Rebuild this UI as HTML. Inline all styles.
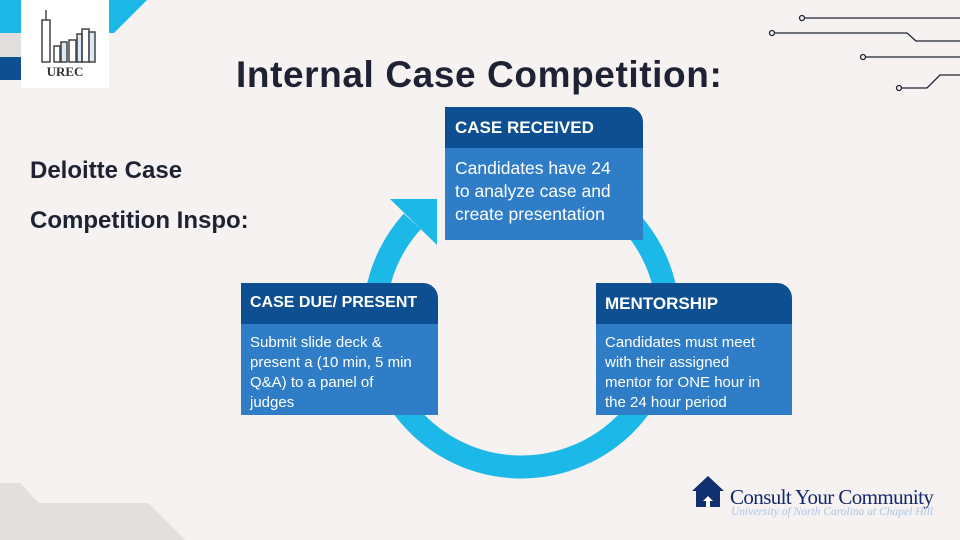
<!DOCTYPE html>
<html><head><style>
body{margin:0;width:960px;height:540px;overflow:hidden;background:#f6f2f1;font-family:"Liberation Sans",sans-serif;position:relative}
.a{position:absolute}
.hd{background:#0d4f91;color:#fff;font-weight:bold;box-sizing:border-box;border-top-right-radius:15px}
.bd{background:#2f7dc6;color:#fff;box-sizing:border-box}
</style></head><body>
<svg class="a" style="left:0;top:0" width="960" height="540">
<polygon points="0,0 147,0 114,33 0,33" fill="#1cb8e8"/>
<rect x="0" y="33" width="40" height="24" fill="#e1dedd"/>
<polygon points="0,57 40,57 40,80 14,80 0,80" fill="#0d4f91"/>
<polygon points="0,483 20,483 39,503 148,503 185,540 0,540" fill="#e2dfde"/>
<g stroke="#1e2233" stroke-width="1.3" fill="#f6f2f1">
<line x1="805" y1="18" x2="960" y2="18"/><circle cx="802" cy="18" r="2.5"/>
<polyline points="775,33 907,33 916,41 960,41" fill="none"/><circle cx="772" cy="33" r="2.5"/>
<line x1="866" y1="57" x2="960" y2="57"/><circle cx="863" cy="57" r="2.5"/>
<polyline points="902,88 927,88 940,75 960,75" fill="none"/><circle cx="899" cy="88" r="2.5"/>
</g>
<path d="M412.3,221.4 A147,147 0 1 0 521,173" fill="none" stroke="#1cb8e8" stroke-width="23"/>
<polygon points="390,199 437,199 437,245" fill="#1cb8e8"/>
</svg>
<div class="a" style="left:21px;top:0;width:88px;height:88px;background:#fff"></div>
<svg class="a" style="left:21px;top:0" width="88" height="88">
<g stroke="#444" stroke-width="1.5" fill="none">
<line x1="25" y1="10" x2="25" y2="20"/><rect x="21" y="20" width="8" height="42"/>
<rect x="33" y="46" width="6" height="16"/><rect x="40" y="42" width="6" height="20" fill="#dbe8f5"/>
<rect x="48" y="40" width="7" height="22"/><rect x="56" y="34" width="5" height="28" fill="#dbe8f5"/>
<rect x="61" y="29" width="7" height="33"/><rect x="68" y="32" width="6" height="30" fill="#dbe8f5"/>
</g>
<text x="44" y="76" text-anchor="middle" font-family="Liberation Serif" font-weight="bold" font-size="13" fill="#333">UREC</text>
</svg>
<div class="a" style="left:236px;top:54px;font-size:37px;font-weight:bold;color:#1e2233;letter-spacing:0.6px">Internal Case Competition:</div>
<div class="a" style="left:30px;top:146px;font-size:24px;font-weight:bold;color:#1e2233;line-height:50px">Deloitte Case<br>Competition Inspo:</div>

<div class="a hd" style="left:445px;top:107px;width:198px;height:41px;padding:11px 0 0 10px;font-size:17px">CASE RECEIVED</div>
<div class="a bd" style="left:445px;top:148px;width:198px;height:92px;padding:9px 0 0 10px;font-size:17.5px;line-height:23px">Candidates have 24<br>to analyze case and<br>create presentation</div>

<div class="a hd" style="left:241px;top:283px;width:197px;height:41px;padding:11px 0 0 9px;font-size:16px">CASE DUE/ PRESENT</div>
<div class="a bd" style="left:241px;top:324px;width:197px;height:91px;padding:9px 0 0 9px;font-size:15px;line-height:20px">Submit slide deck &amp;<br>present a (10 min, 5 min<br>Q&amp;A) to a panel of<br>judges</div>

<div class="a hd" style="left:596px;top:283px;width:196px;height:41px;padding:11px 0 0 9px;font-size:17px">MENTORSHIP</div>
<div class="a bd" style="left:596px;top:324px;width:196px;height:91px;padding:9px 0 0 9px;font-size:15px;line-height:20px">Candidates must meet<br>with their assigned<br>mentor for ONE hour in<br>the 24 hour period</div>

<svg class="a" style="left:690px;top:474px" width="40" height="34">
<polygon points="2,17 18,2 34,17 30,17 30,33 6,33 6,17" fill="#0f2f6e"/>
<polygon points="18,22 13,27 16,27 16,33 20,33 20,27 23,27" fill="#fff"/>
</svg>
<div class="a" style="left:730px;top:485px;font-family:'Liberation Serif',serif;font-size:21px;color:#13296a;letter-spacing:-0.6px">Consult Your Community</div>
<div class="a" style="left:731px;top:506px;font-family:'Liberation Serif',serif;font-style:italic;font-size:11.5px;color:#a9c6e8">University of North Carolina at Chapel Hill</div>
</body></html>
